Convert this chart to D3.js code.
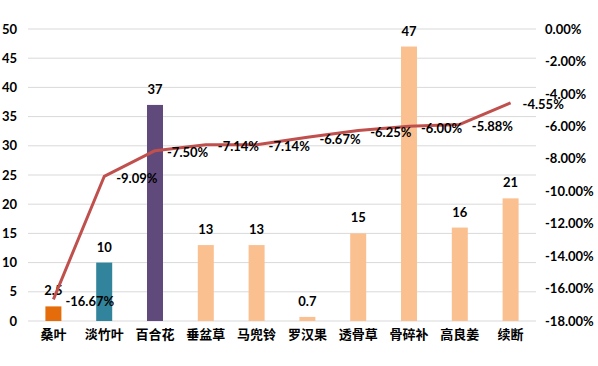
<!DOCTYPE html>
<html><head><meta charset="utf-8">
<script src="https://cdn.jsdelivr.net/npm/d3@7"></script>
<style>body{margin:0;background:#fff}svg{display:block}</style>
</head><body>
<svg id="c" width="598" height="366"></svg>
<script>
const categories = ["桑叶","淡竹叶","百合花","垂盆草","马兜铃","罗汉果","透骨草","骨碎补","高良姜","续断"];
const barValues = [2.5,10,37,13,13,0.7,15,47,16,21];
const barLabels = ["2.5","10","37","13","13","0.7","15","47","16","21"];
const lineValues = [-16.67,-9.09,-7.50,-7.14,-7.14,-6.67,-6.25,-6.00,-5.88,-4.55];
const barColors = ["#E46C0A","#31849B","#604A7B","#FAC090","#FAC090","#FAC090","#FAC090","#FAC090","#FAC090","#FAC090"];
const leftTicks = [0,5,10,15,20,25,30,35,40,45,50];
const rightTicks = [0,-2,-4,-6,-8,-10,-12,-14,-16,-18];

const pct = d => (d === 0 ? "0.00" : d.toFixed(2)) + "%";

const svg = d3.select("#c");
const L = 28, R = 536, T = 29, B = 321;
const x = d3.scaleBand().domain(categories).range([L, R]).paddingInner(0).paddingOuter(0);
const y = d3.scaleLinear().domain([0, 50]).range([B, T]);
const y2 = d3.scaleLinear().domain([-18, 0]).range([B, T]);
const font = "Lato, 'Noto Sans', sans-serif";
const cjk = "'Noto Sans CJK SC', sans-serif";

// gridlines
svg.append("g").selectAll("line").data(leftTicks).join("line")
  .attr("x1", L).attr("x2", R).attr("y1", d => y(d)).attr("y2", d => y(d))
  .attr("stroke", "#D9D9D9").attr("stroke-width", 1);

// left axis
const la = svg.append("g").attr("transform", `translate(${L},0)`)
  .call(d3.axisLeft(y).tickValues(leftTicks).tickSize(0).tickPadding(11));
la.select(".domain").remove();
la.selectAll("text").attr("font-family", font).attr("font-weight", "bold").attr("font-size", 13).attr("fill", "#000");

// right axis
const ra = svg.append("g").attr("transform", `translate(${R},0)`)
  .call(d3.axisRight(y2).tickValues(rightTicks).tickSize(0).tickPadding(9).tickFormat(pct));
ra.select(".domain").remove();
ra.selectAll("text").attr("font-family", font).attr("font-weight", "bold").attr("font-size", 13).attr("fill", "#000");

// bottom axis labels
const ba = svg.append("g").attr("transform", `translate(0,${B})`)
  .call(d3.axisBottom(x).tickSize(0).tickPadding(9));
ba.select(".domain").remove();
ba.selectAll("text").attr("font-family", cjk).attr("font-weight", "bold").attr("font-size", 13).attr("fill", "#000");

// bars
const bw = 16;
svg.append("g").selectAll("rect").data(barValues).join("rect")
  .attr("x", (d, i) => x(categories[i]) + x.bandwidth() / 2 - bw / 2)
  .attr("width", bw)
  .attr("y", d => y(d))
  .attr("height", d => B - y(d))
  .attr("fill", (d, i) => barColors[i]);

// bar labels
svg.append("g").selectAll("text").data(barValues).join("text")
  .attr("x", (d, i) => x(categories[i]) + x.bandwidth() / 2)
  .attr("y", d => y(d) - 11)
  .attr("text-anchor", "middle")
  .attr("font-family", font).attr("font-weight", "bold").attr("font-size", 13).attr("fill", "#000")
  .text((d, i) => barLabels[i]);

// line
const line = d3.line().x((d, i) => x(categories[i]) + x.bandwidth() / 2).y(d => y2(d));
svg.append("path").datum(lineValues).attr("d", line)
  .attr("fill", "none").attr("stroke", "#C0504D").attr("stroke-width", 3).attr("stroke-linejoin", "round");

// line labels
svg.append("g").selectAll("text").data(lineValues).join("text")
  .attr("x", (d, i) => x(categories[i]) + x.bandwidth() / 2 + 12)
  .attr("y", d => y2(d) + 2)
  .attr("dy", "0.35em")
  .attr("font-family", font).attr("font-weight", "bold").attr("font-size", 13).attr("fill", "#000")
  .text(pct);
</script>
</body></html>
